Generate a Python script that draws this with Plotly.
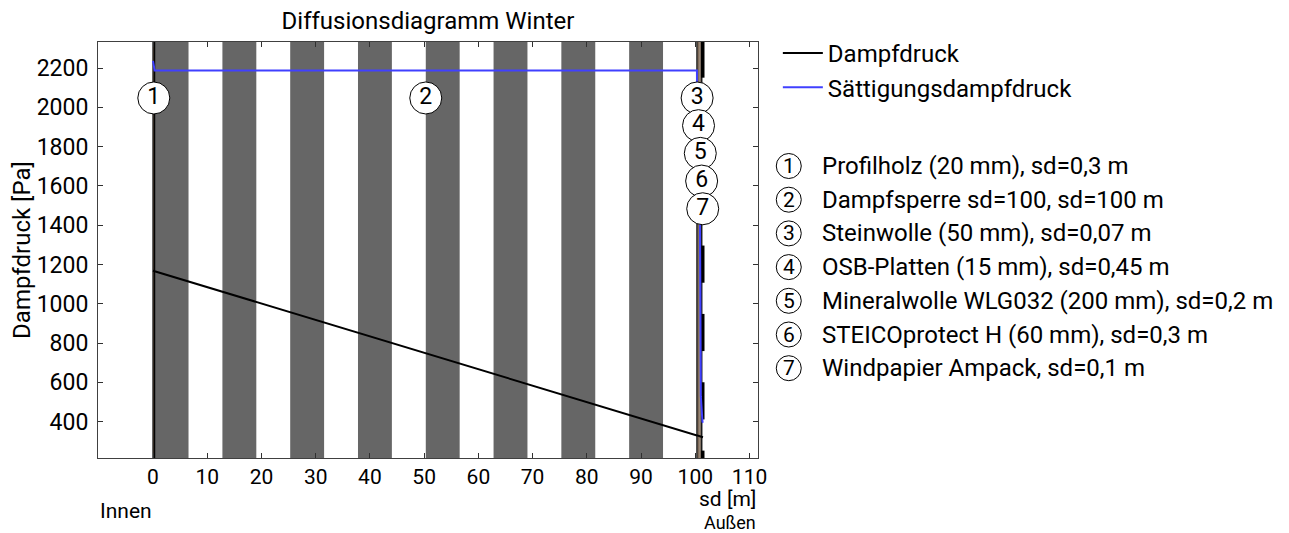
import numpy as np
import plotly.graph_objects as go

# ---------------- data ----------------
layer_names = ["Profilholz (20 mm)", "Dampfsperre sd=100", "Steinwolle (50 mm)",
               "OSB-Platten (15 mm)", "Mineralwolle WLG032 (200 mm)",
               "STEICOprotect H (60 mm)", "Windpapier Ampack"]
layer_sd = [0.3, 100.0, 0.07, 0.45, 0.2, 0.3, 0.1]
layer_sd_text = ["0,3", "100", "0,07", "0,45", "0,2", "0,3", "0,1"]
# pressures at the layer boundaries (inside -> outside)
p_vapour = [1169, 1166, 330, 330, 326, 324, 322, 321]
p_sat = [2237, 2188, 2188, 1716, 1684, 530, 400, 395]
x_ticks = [0, 10, 20, 30, 40, 50, 60, 70, 80, 90, 100, 110]
y_ticks = [400, 600, 800, 1000, 1200, 1400, 1600, 1800, 2000, 2200]

# ---------------- layout constants ----------------
OFF = 8                      # page body margin
W, H = 1289 - OFF, 533 - OFF
# plot area in screen pixels
SL, ST, SR, SB = 93, 42, 758, 458
ML, MT = SL - OFF, ST - OFF
MR, MB = W - (SR - OFF), H - (SB - OFF)
PW, PH = SR - SL, SB - ST
FONT = "Roboto"
FS = 24
XR = [-10.142, 111.562]
YR = [215, 2333]
BROWN = "#806b58"
fill_style = [BROWN, "vstripes", BROWN, BROWN, BROWN, "#1a1a1a", "hstripes"]

bounds = np.concatenate([[0.0], np.cumsum(layer_sd)])
mids = (bounds[:-1] + bounds[1:]) / 2
px_per_x = PW / (XR[1] - XR[0])


def px2paper_x(px):
    return (px - SL) / PW


def px2paper_y(py):
    return (SB - py) / PH


shapes = []
for i, st in enumerate(fill_style):
    x0, x1 = bounds[i], bounds[i + 1]
    if st == "vstripes":
        w = (x1 - x0) / 16
        for k in range(8):
            shapes.append(dict(type="rect", xref="x", yref="y", x0=x0 + 2 * k * w,
                               x1=x0 + (2 * k + 1) * w, y0=YR[0], y1=YR[1],
                               fillcolor="#666666", line_width=0, layer="below"))
    elif st == "hstripes":
        h = 174
        top = YR[1]
        while top > YR[0]:
            shapes.append(dict(type="rect", xref="x", yref="y", x0=x0, x1=x1,
                               y0=max(top - h, YR[0]), y1=top, fillcolor="black",
                               line=dict(color="black", width=3), layer="below"))
            top -= 2 * h
    else:
        shapes.append(dict(type="rect", xref="x", yref="y", x0=x0, x1=x1,
                           y0=YR[0], y1=YR[1], fillcolor=st, line_width=0, layer="below"))
# layer outlines
for b in bounds[:3]:
    shapes.append(dict(type="line", xref="x", yref="y", x0=b, x1=b, y0=YR[0], y1=YR[1],
                       line=dict(color="black", width=1.2), layer="below"))

# label stacking for thin layers
label_top, label_step = 2048, 141
levels = []
for i in range(len(mids)):
    if i > 0 and (mids[i] - mids[i - 1]) * px_per_x < 30:
        levels.append(levels[-1] + 1)
    else:
        levels.append(0)
label_y = [label_top - label_step * lv for lv in levels]

fig = go.Figure()
fig.add_trace(go.Scatter(x=bounds, y=p_vapour, mode="lines", name="Dampfdruck",
                         legendgroup="a", line=dict(color="black", width=2)))
fig.add_trace(go.Scatter(x=bounds, y=p_sat, mode="lines", name="Sättigungsdampfdruck",
                         legendgroup="b", line=dict(color="#4040ff", width=2)))
fig.add_trace(go.Scatter(x=mids, y=label_y, mode="markers+text",
                         text=[str(i + 1) for i in range(len(mids))],
                         textposition="middle center",
                         textfont=dict(family=FONT, size=23, color="black"),
                         marker=dict(size=32, color="white", line=dict(color="black", width=1)),
                         showlegend=False, hoverinfo="skip"))

annotations = []
# layer list on the right
row0, row_step = 166, 33.7
for i, (nm, sdt) in enumerate(zip(layer_names, layer_sd_text)):
    cy = px2paper_y(row0 + i * row_step)
    cx = px2paper_x(789)
    shapes.append(dict(type="circle", xref="paper", yref="paper", xsizemode="pixel",
                       ysizemode="pixel", xanchor=cx, yanchor=cy, x0=-12.5, x1=12.5,
                       y0=-12.5, y1=12.5, line=dict(color="black", width=1),
                       fillcolor="white"))
    annotations.append(dict(xref="paper", yref="paper", x=cx, y=cy, text=str(i + 1),
                            showarrow=False, xanchor="center", yanchor="middle",
                            font=dict(family=FONT, size=21, color="black")))
    annotations.append(dict(xref="paper", yref="paper", x=px2paper_x(820), y=cy,
                            text=f"{nm}, sd={sdt} m", showarrow=False,
                            xanchor="left", yanchor="middle",
                            font=dict(family=FONT, size=FS, color="black")))

annotations += [
    dict(xref="paper", yref="paper", x=1, y=px2paper_y(499), text="sd [m]",
         showarrow=False, xanchor="right", yanchor="middle",
         font=dict(family=FONT, size=21, color="black")),
    dict(xref="paper", yref="paper", x=1, y=px2paper_y(522), text="Außen",
         showarrow=False, xanchor="right", yanchor="middle",
         font=dict(family=FONT, size=18, color="black")),
    dict(xref="paper", yref="paper", x=0, y=px2paper_y(511), text="Innen",
         showarrow=False, xanchor="left", yanchor="middle",
         font=dict(family=FONT, size=21, color="black")),
]

axis_common = dict(showline=True, linecolor="#404040", linewidth=1, mirror="ticks",
                   ticks="inside", ticklen=5, tickcolor="#303030", showgrid=False,
                   zeroline=False)

fig.update_layout(
    width=W, height=H, autosize=False,
    margin=dict(l=ML, r=MR, t=MT, b=MB),
    paper_bgcolor="white", plot_bgcolor="white",
    font=dict(family=FONT, size=FS, color="black"),
    title=dict(text="Diffusionsdiagramm Winter", x=0.5, xref="paper",
               y=1 - (21 - OFF) / H, yanchor="middle",
               font=dict(family=FONT, size=FS, color="black")),
    xaxis=dict(range=XR, tickvals=x_ticks, ticklabelstandoff=0,
               tickfont=dict(family=FONT, size=21, color="black"), **axis_common),
    yaxis=dict(range=YR, tickvals=y_ticks, ticklabelstandoff=4,
               tickfont=dict(family=FONT, size=23, color="black"),
               title=dict(text="Dampfdruck [Pa]", font=dict(family=FONT, size=FS), standoff=0),
               **axis_common),
    legend=dict(x=px2paper_x(778), y=px2paper_y(31), xanchor="left", yanchor="top",
                bgcolor="rgba(0,0,0,0)", font=dict(family=FONT, size=FS),
                traceorder="grouped", tracegroupgap=0, itemwidth=40),
    shapes=shapes, annotations=annotations,
)

fig.write_html("out.html")
